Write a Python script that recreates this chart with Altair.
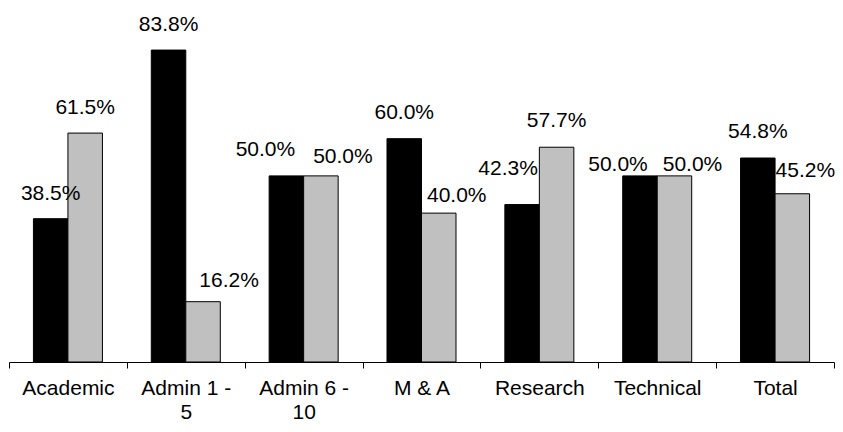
import altair as alt
import pandas as pd

categories = ["Academic", "Admin 1 - 5", "Admin 6 - 10", "M & A", "Research", "Technical", "Total"]
series_names = ["Series1", "Series2"]
series1_values = [38.5, 83.8, 50.0, 60.0, 42.3, 50.0, 54.8]
series2_values = [61.5, 16.2, 50.0, 40.0, 57.7, 50.0, 45.2]

# label nudges (pixels) mimicking the original label placement
series1_label_dx = [0, 0, -21, 0, -14, -22, 0]
series2_label_dx = [0, 26, 22, 18, 0, 18, 13]
series1_label_dy = [-25, -25, -26, -26, -36, -11, -26]
series2_label_dy = [-25, -21, -19, -17, -26, -11, -23]

rows = []
for i, c in enumerate(categories):
    rows.append({"cat": c, "series": series_names[0], "value": series1_values[i],
                 "ldx": series1_label_dx[i], "ldy": series1_label_dy[i]})
    rows.append({"cat": c, "series": series_names[1], "value": series2_values[i],
                 "ldx": series2_label_dx[i], "ldy": series2_label_dy[i]})
df = pd.DataFrame(rows)

FONT = "Liberation Sans"

label_expr = ("indexof(datum.label, ' - ') > 0 ? "
              "[substring(datum.label, 0, indexof(datum.label, ' - ') + 2), "
              "substring(datum.label, indexof(datum.label, ' - ') + 3)] : datum.label")

x_enc = alt.X("cat:N", sort=categories, title=None,
              scale=alt.Scale(paddingInner=0, paddingOuter=0),
              axis=alt.Axis(labelAngle=0, tickBand="extent", tickSize=6,
                            labelFontSize=21, labelFont=FONT, labelColor="black",
                            labelPadding=9, labelLineHeight=24,
                            domainColor="black", tickColor="black",
                            domainWidth=1, tickWidth=1, grid=False,
                            labelExpr=label_expr))
xoff_enc = alt.XOffset("series:N", sort=series_names,
                       scale=alt.Scale(paddingInner=0, paddingOuter=0.708))
y_enc = alt.Y("value:Q", axis=None, scale=alt.Scale(domain=[0, 90], nice=False, zero=True))

base = alt.Chart(df)

bars = base.mark_bar(stroke="black", strokeWidth=1).encode(
    x=x_enc,
    xOffset=xoff_enc,
    y=y_enc,
    color=alt.Color("series:N", sort=series_names,
                    scale=alt.Scale(domain=series_names, range=["#000000", "#C0C0C0"]),
                    legend=None),
)

labels = base.mark_text(
    font=FONT, fontSize=21, color="black", align="center", baseline="middle",
    dx=alt.ExprRef("datum.ldx"), dy=alt.ExprRef("datum.ldy"),
).transform_calculate(
    label="format(datum.value, '.1f') + '%'"
).encode(
    x=x_enc,
    xOffset=xoff_enc,
    y=y_enc,
    text="label:N",
)

chart = alt.layer(bars, labels).properties(
    width=825, height=335,
    autosize=alt.AutoSizeParams(type="none"),
    padding={"left": 1, "top": 19, "right": 1, "bottom": 62},
).configure_view(strokeWidth=0)

chart.save("out.html", embed_options={"renderer": "svg", "actions": False})
